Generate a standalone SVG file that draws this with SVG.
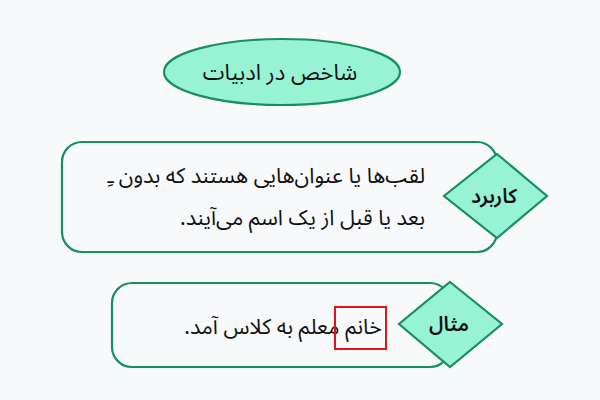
<svg xmlns="http://www.w3.org/2000/svg" width="600" height="400" viewBox="0 0 600 400">
<style>
.shape{fill:#98f3d5;stroke:#17905d;stroke-width:2.2}
.box{fill:#f8f9fb;stroke:#17905d;stroke-width:2.2}
text{font-family:"Noto Sans Arabic","DejaVu Sans",sans-serif;fill:#111}
.rt{direction:rtl;text-anchor:start;font-size:21.5px}
.lbl{text-anchor:middle;font-size:20px;font-weight:600}
</style>
<rect width="600" height="400" fill="#f8f9fb"/>
<g id="title">
<ellipse class="shape" cx="282" cy="72" rx="118" ry="33"/>
<text x="280" y="80" text-anchor="middle" font-size="22" direction="rtl">شاخص در ادبیات</text>
</g>
<g id="usage">
<rect class="box" x="62" y="142" width="435" height="110" rx="20"/>
<text class="rt" x="425" y="183">لقب‌ها یا عنوان‌هایی هستند که بدون ـِ</text>
<text class="rt" x="425" y="225">بعد یا قبل از یک اسم می‌آیند.</text>
<polygon class="shape" points="497,154 547,196 497,238 444,196"/>
<text class="lbl" x="494" y="203" direction="rtl">کاربرد</text>
</g>
<g id="example">
<rect class="box" x="112" y="283" width="338" height="84" rx="20"/>
<text class="rt" x="382" y="334" font-size="23">خانم معلم به کلاس آمد.</text>
<rect x="335" y="307" width="51" height="42" fill="none" stroke="#e8101a" stroke-width="2"/>
<polygon class="shape" points="450,282 502,324 450,367 399,324"/>
<text class="lbl" x="449" y="331" direction="rtl">مثال</text>
</g>
<g id="connectors"></g>
</svg>
